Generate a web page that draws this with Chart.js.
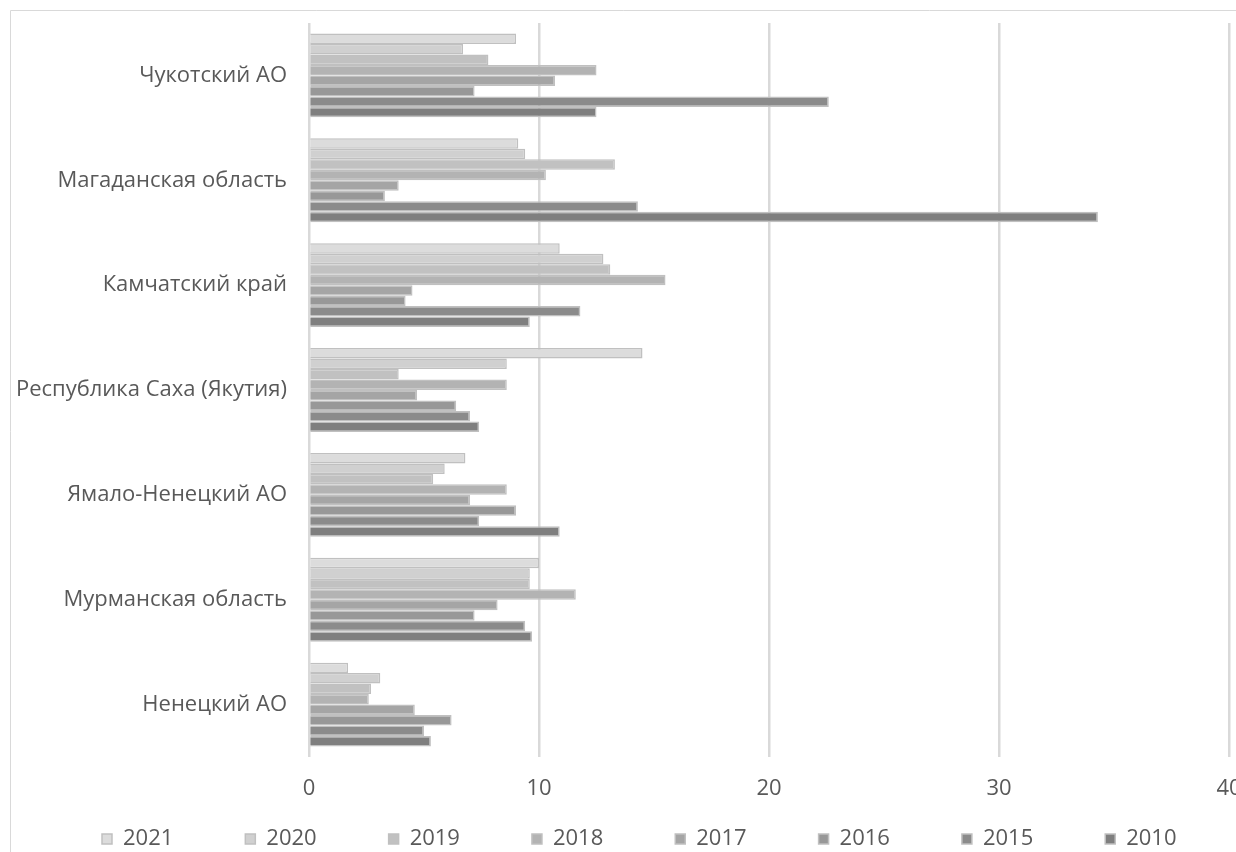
<!DOCTYPE html>
<html>
<head>
<meta charset="utf-8">
<script src="https://cdn.jsdelivr.net/npm/chart.js@4/dist/chart.umd.min.js"></script>
<style>
  html, body { margin: 0; padding: 0; background: #fff; overflow: hidden; }
  canvas { display: block; }
</style>
</head>
<body>
<canvas id="c" width="1236" height="852"></canvas>
<script>
// Regions, top to bottom
const categories = [
  'Чукотский АО',
  'Магаданская область',
  'Камчатский край',
  'Республика Саха (Якутия)',
  'Ямало-Ненецкий АО',
  'Мурманская область',
  'Ненецкий АО'
];

// Years in legend order
const years = ['2021', '2020', '2019', '2018', '2017', '2016', '2015', '2010'];

// Values per year, one entry per region (same order as categories)
const v2021 = [9.0, 9.1, 10.9, 14.5, 6.8, 10.0, 1.7];
const v2020 = [6.7, 9.4, 12.8, 8.6, 5.9, 9.6, 3.1];
const v2019 = [7.8, 13.3, 13.1, 3.9, 5.4, 9.6, 2.7];
const v2018 = [12.5, 10.3, 15.5, 8.6, 8.6, 11.6, 2.6];
const v2017 = [10.7, 3.9, 4.5, 4.7, 7.0, 8.2, 4.6];
const v2016 = [7.2, 3.3, 4.2, 6.4, 9.0, 7.2, 6.2];
const v2015 = [22.6, 14.3, 11.8, 7.0, 7.4, 9.4, 5.0];
const v2010 = [12.5, 34.3, 9.6, 7.4, 10.9, 9.7, 5.3];

const xTicks = [0, 10, 20, 30, 40];

const seriesValues = [v2021, v2020, v2019, v2018, v2017, v2016, v2015, v2010];
const fills = ['#dcdcdc', '#d0d0d0', '#c1c1c1', '#b3b3b3', '#a5a5a5', '#989898', '#8b8b8b', '#7f7f7f'];

const TEXT = '#595959';
const FONT_SIZE = 22;
const LEGEND_PAD = 72;
const LEGEND_CENTER_Y = 839;
const LEGEND_START_X = 102;

Chart.defaults.font.family = "'Open Sans', 'DejaVu Sans', sans-serif";
Chart.defaults.color = TEXT;

// thin outer frame of the chart object
const framePlugin = {
  id: 'frame',
  beforeDraw(chart) {
    const ctx = chart.ctx;
    ctx.save();
    ctx.strokeStyle = '#d9d9d9';
    ctx.lineWidth = 1;
    ctx.beginPath();
    ctx.moveTo(10.5, chart.height);
    ctx.lineTo(10.5, 10.5);
    ctx.lineTo(chart.width, 10.5);
    ctx.stroke();
    ctx.restore();
  }
};

// one legend row with wide horizontal spacing but no matching vertical gap
const legendRowPlugin = {
  id: 'legendRow',
  afterLayout(chart) {
    const lg = chart.legend;
    if (!lg) return;
    const lineW = (lg.lineWidths && lg.lineWidths[0]) || 0;
    lg.top = LEGEND_CENTER_Y - LEGEND_PAD - FONT_SIZE / 2;
    lg.bottom = chart.height;
    lg.right = chart.width + 300;
    lg.left = 2 * LEGEND_START_X - LEGEND_PAD - lg.right + lineW;
  }
};

new Chart(document.getElementById('c'), {
  type: 'bar',
  data: {
    labels: categories,
    datasets: years.map((y, i) => ({
      label: y,
      data: seriesValues[i],
      backgroundColor: fills[i],
      borderColor: '#c0c0c0',
      borderWidth: 1.5,
      categoryPercentage: 0.8,
      barPercentage: 1.0
    }))
  },
  options: {
    indexAxis: 'y',
    responsive: false,
    animation: false,
    devicePixelRatio: 1,
    layout: { padding: { top: 23, left: 8, right: 7, bottom: 0 } },
    scales: {
      x: {
        min: xTicks[0],
        max: xTicks[xTicks.length - 1],
        afterBuildTicks(scale) { scale.ticks = xTicks.map(v => ({ value: v })); },
        ticks: { font: { size: FONT_SIZE }, color: TEXT, padding: 19 },
        grid: { color: '#d9d9d9', lineWidth: 2.5, drawTicks: false },
        border: { display: false },
        afterFit(scale) {
          scale.height = 55;
          scale.paddingLeft = 0;
          scale.paddingRight = 0;
        }
      },
      y: {
        ticks: { font: { size: FONT_SIZE }, color: TEXT, padding: 22 },
        grid: { display: false, drawTicks: false },
        border: { display: false },
        afterFit(scale) {
          scale.width = 301;
          scale.paddingTop = 0;
          scale.paddingBottom = 0;
        }
      }
    },
    plugins: {
      legend: {
        position: 'bottom',
        maxHeight: 40,
        labels: {
          boxWidth: 10,
          boxHeight: 10,
          padding: LEGEND_PAD,
          color: TEXT,
          font: { size: FONT_SIZE }
        }
      },
      tooltip: { enabled: false }
    }
  },
  plugins: [framePlugin, legendRowPlugin]
});
</script>
</body>
</html>
